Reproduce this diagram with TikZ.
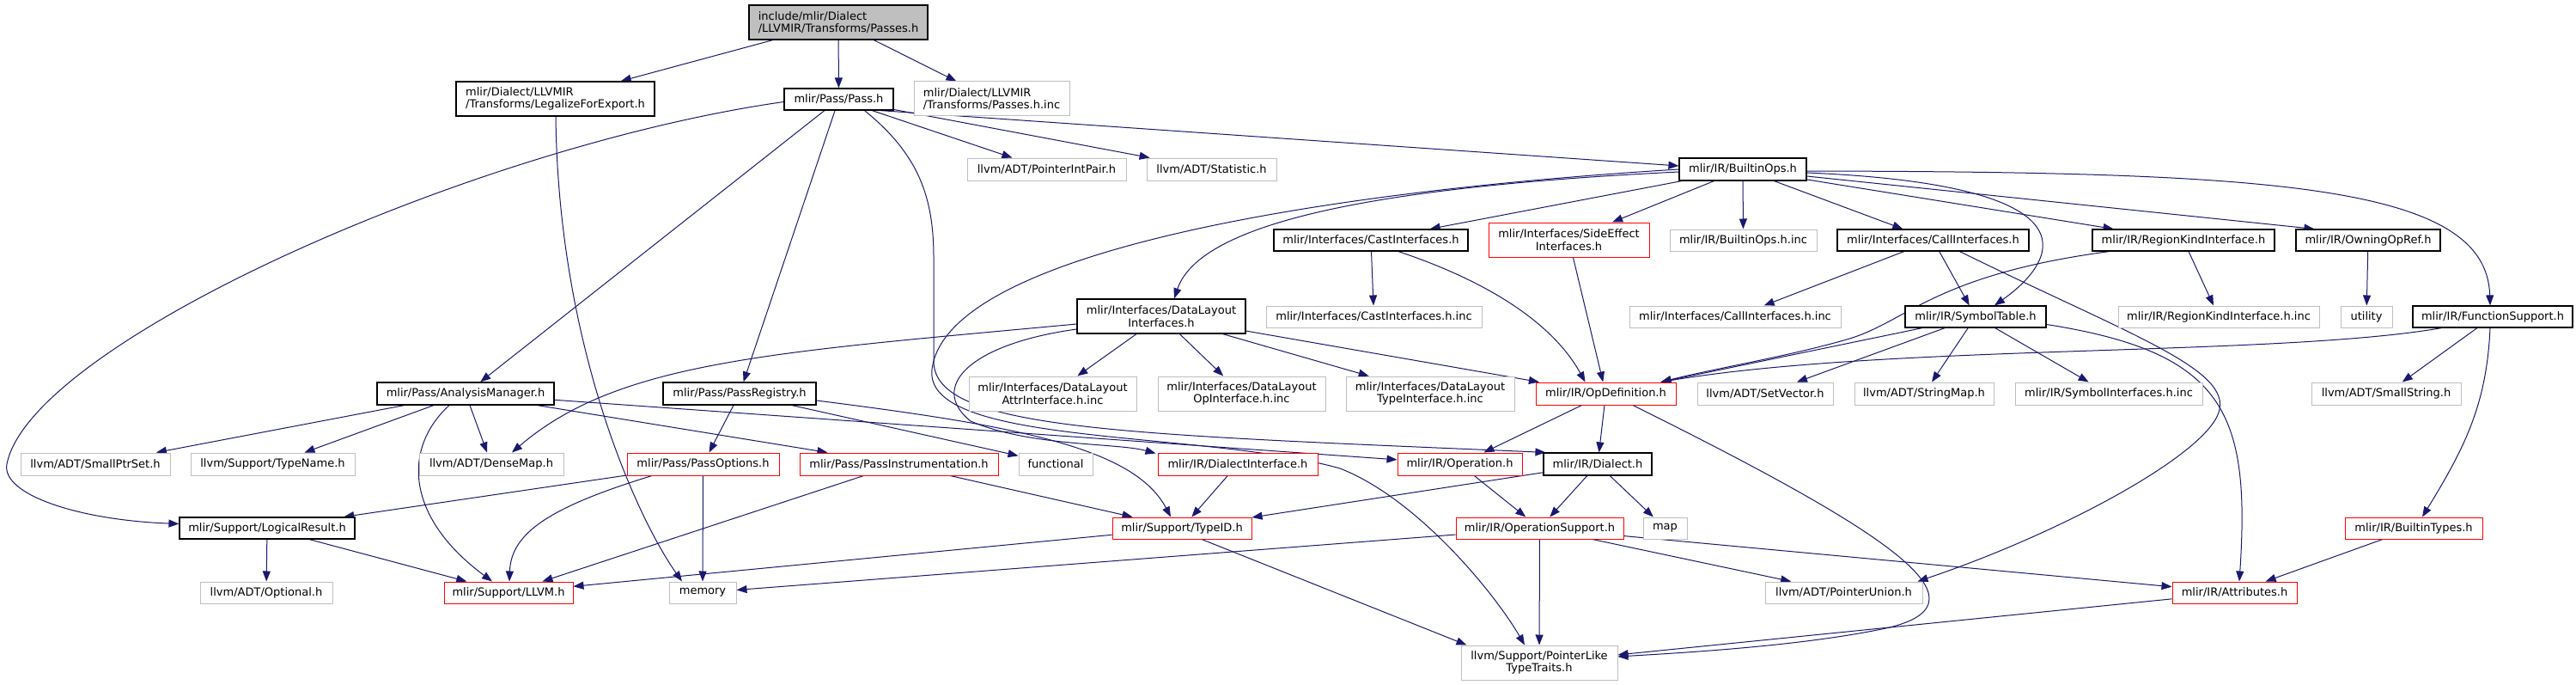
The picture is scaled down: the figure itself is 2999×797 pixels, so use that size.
\documentclass[tikz,border=0pt]{standalone}
\usepackage{fontspec}
\setmainfont{DejaVu Sans}
\usetikzlibrary{arrows.meta,calc,backgrounds}
\definecolor{edgec}{HTML}{191970}
\definecolor{extgray}{HTML}{BFBFBF}
\definecolor{rootgray}{HTML}{BFBFBF}
\tikzset{
  bxbase/.style={rectangle, inner sep=0pt, line width=1pt, fill=white, text=black, font=\fontsize{13}{14.5}\selectfont},
  blk/.style={bxbase, draw=black, line width=1.2pt},
  ext/.style={bxbase, draw=extgray},
  trn/.style={bxbase, draw=red},
  rootbox/.style={bxbase, draw=black, line width=1.2pt, fill=rootgray},
  lnk/.style={draw=edgec, line width=1pt, -{Triangle[length=12pt,width=9pt]}},
}
\newcommand{\mkbox}[7]{\node[#1, minimum width={(#5-#3)*1pt}, minimum height={(#6-#4)*1pt}] (#2) at ({(#3+#5)/2},{(#4+#6)/2}) {#7};}
\begin{document}
\begin{tikzpicture}[x=1pt,y=-1pt]
\useasboundingbox (0,0) rectangle (2999,797);
% nodes
\mkbox{rootbox,align=left}{root}{872}{6}{1080}{46}{include/mlir/Dialect\\/LLVMIR/Transforms/Passes.h}
\mkbox{blk,align=left}{legal}{531}{95}{762}{135}{mlir/Dialect/LLVMIR\\/Transforms/LegalizeForExport.h}
\mkbox{blk}{pass}{913}{103}{1040}{128}{mlir/Pass/Pass.h}
\mkbox{ext,align=left}{passinc}{1064}{95}{1245}{135}{mlir/Dialect/LLVMIR\\/Transforms/Passes.h.inc}
\mkbox{ext}{pip}{1126}{184}{1311}{210}{llvm/ADT/PointerIntPair.h}
\mkbox{ext}{stat}{1335}{184}{1486}{210}{llvm/ADT/Statistic.h}
\mkbox{blk}{bops}{1955}{184}{2103}{210}{mlir/IR/BuiltinOps.h}
\mkbox{blk}{cast}{1483}{267}{1709}{292}{mlir/Interfaces/CastInterfaces.h}
\mkbox{trn,align=center}{side}{1733}{259}{1920}{299}{mlir/Interfaces/SideEffect\\Interfaces.h}
\mkbox{ext}{bopsinc}{1944}{267}{2115}{292}{mlir/IR/BuiltinOps.h.inc}
\mkbox{blk}{call}{2139}{267}{2362}{292}{mlir/Interfaces/CallInterfaces.h}
\mkbox{blk}{region}{2436}{267}{2648}{292}{mlir/IR/RegionKindInterface.h}
\mkbox{blk}{owning}{2673}{267}{2841}{292}{mlir/IR/OwningOpRef.h}
\mkbox{blk,align=center}{dl}{1254}{348}{1450}{388}{mlir/Interfaces/DataLayout\\Interfaces.h}
\mkbox{ext}{castinc}{1474}{356}{1725}{381}{mlir/Interfaces/CastInterfaces.h.inc}
\mkbox{ext}{callinc}{1897}{356}{2143}{381}{mlir/Interfaces/CallInterfaces.h.inc}
\mkbox{blk}{symtab}{2218}{356}{2382}{381}{mlir/IR/SymbolTable.h}
\mkbox{ext}{regioninc}{2466}{356}{2700}{381}{mlir/IR/RegionKindInterface.h.inc}
\mkbox{ext}{utility}{2725}{356}{2785}{381}{utility}
\mkbox{blk}{funcsup}{2809}{356}{2995}{381}{mlir/IR/FunctionSupport.h}
\mkbox{blk}{am}{439}{445}{645}{471}{mlir/Pass/AnalysisManager.h}
\mkbox{blk}{preg}{772}{445}{950}{471}{mlir/Pass/PassRegistry.h}
\mkbox{ext,align=center}{attrinc}{1128}{438}{1323}{478}{mlir/Interfaces/DataLayout\\AttrInterface.h.inc}
\mkbox{ext,align=center}{opinc}{1348}{438}{1543}{478}{mlir/Interfaces/DataLayout\\OpInterface.h.inc}
\mkbox{ext,align=center}{typeinc}{1567}{438}{1763}{478}{mlir/Interfaces/DataLayout\\TypeInterface.h.inc}
\mkbox{trn}{opdef}{1788}{445}{1951}{471}{mlir/IR/OpDefinition.h}
\mkbox{ext}{setvec}{1976}{445}{2134}{471}{llvm/ADT/SetVector.h}
\mkbox{ext}{strmap}{2159}{445}{2321}{471}{llvm/ADT/StringMap.h}
\mkbox{ext}{syminc}{2346}{445}{2564}{471}{mlir/IR/SymbolInterfaces.h.inc}
\mkbox{ext}{smallstr}{2691}{445}{2865}{471}{llvm/ADT/SmallString.h}
\mkbox{ext}{smallptr}{24}{527}{198}{553}{llvm/ADT/SmallPtrSet.h}
\mkbox{ext}{typename}{222}{527}{413}{553}{llvm/Support/TypeName.h}
\mkbox{ext}{densemap}{488}{527}{656}{553}{llvm/ADT/DenseMap.h}
\mkbox{trn}{passopt}{730}{527}{907}{553}{mlir/Pass/PassOptions.h}
\mkbox{trn}{passinst}{931}{527}{1162}{553}{mlir/Pass/PassInstrumentation.h}
\mkbox{ext}{functional}{1186}{527}{1272}{553}{functional}
\mkbox{trn}{dialint}{1348}{527}{1534}{553}{mlir/IR/DialectInterface.h}
\mkbox{trn}{operation}{1627}{527}{1772}{553}{mlir/IR/Operation.h}
\mkbox{blk}{dialect}{1797}{527}{1923}{553}{mlir/IR/Dialect.h}
\mkbox{blk}{logical}{209}{602}{413}{627}{mlir/Support/LogicalResult.h}
\mkbox{trn}{typeid}{1295}{602}{1457}{627}{mlir/Support/TypeID.h}
\mkbox{trn}{opsup}{1695}{602}{1890}{627}{mlir/IR/OperationSupport.h}
\mkbox{ext}{map}{1913}{602}{1964}{627}{map}
\mkbox{trn}{btypes}{2730}{602}{2890}{627}{mlir/IR/BuiltinTypes.h}
\mkbox{ext}{optional}{233}{677}{387}{702}{llvm/ADT/Optional.h}
\mkbox{trn}{llvm}{517}{677}{667}{702}{mlir/Support/LLVM.h}
\mkbox{ext}{memory}{779}{677}{857}{702}{memory}
\mkbox{ext}{ptrunion}{2055}{677}{2238}{702}{llvm/ADT/PointerUnion.h}
\mkbox{trn}{attrs}{2529}{677}{2674}{702}{mlir/IR/Attributes.h}
\mkbox{ext,align=center}{ptrlike}{1701}{751}{1883}{791}{llvm/Support/PointerLike\\TypeTraits.h}
% edges
\begin{scope}[on background layer]
\fill[white] (0,0) rectangle (2999,797);
\draw[lnk] (root) -- (legal);
\draw[lnk] (root) -- (pass);
\draw[lnk] (root) -- (passinc);
\draw[lnk] ($(legal.south)+(0.5,0)$) .. controls (650,400) and (740,600) .. ($(memory.north)+(-24,0)$);
\draw[lnk] ($(pass.west)+(0,3)$) .. controls (550,170) and (35,400) .. (8,540) .. controls (1.25,575) and (90,605) .. ($(logical.west)+(0,-5)$);
\draw[lnk] (pass) -- (am);
\draw[lnk] (pass) -- (preg);
\draw[lnk] (pass) -- (pip);
\draw[lnk] (pass) -- (stat);
\draw[lnk] ($(pass.south)+(48.5,0)$) -- ($(bops.west)+(0,-4)$);
\draw[lnk] ($(pass.south)+(30,0)$) .. controls (1070,180) and (1087,230) .. (1087,300) -- (1087,420) .. controls (1087,500) and (1300,505) .. ($(dialect.north west)+(3,0)$);
\draw[lnk] (am) -- (smallptr);
\draw[lnk] (am) -- (typename);
\draw[lnk] (am) -- (densemap);
\draw[lnk] ($(am.south)+(-19,0)$) .. controls (470,520) and (470,600) .. ($(llvm.north)+(-19,0)$);
\draw[lnk] (am) -- (passinst);
\draw[lnk] (am) -- (operation);
\draw[lnk] (preg) -- (passopt);
\draw[lnk] (preg) -- (functional);
\draw[lnk] ($(preg.east)+(0,8)$) .. controls (1180,495) and (1320,520) .. ($(typeid.north)+(-13,0)$);
\draw[lnk] (passopt) -- (logical);
\draw[lnk] ($(passopt.south)+(-59.5,0)$) .. controls (640,590) and (595,620) .. ($(llvm.north)+(1,0)$);
\draw[lnk] (passopt) -- (memory);
\draw[lnk] (passinst) -- (llvm);
\draw[lnk] (passinst) -- (typeid);
\draw[lnk] (logical) -- (optional);
\draw[lnk] (logical) -- (llvm);
\draw[lnk] (typeid) -- (llvm);
\draw[lnk] ($(typeid.south)+(23,0)$) -- ($(ptrlike.north west)+(7,0)$);
\draw[lnk] (dialint) -- (typeid);
\draw[lnk] (dialect) -- (typeid);
\draw[lnk] (dialect) -- (opsup);
\draw[lnk] (dialect) -- (map);
\draw[lnk] (operation) -- (opsup);
\draw[lnk] (opsup) -- (memory);
\draw[lnk] (opsup) -- (ptrunion);
\draw[lnk] (opsup) -- (attrs);
\draw[lnk] (opsup) -- (ptrlike);
\draw[lnk] (attrs) -- (ptrlike);
\draw[lnk] (btypes) -- (attrs);
\draw[lnk] (opdef) -- (operation);
\draw[lnk] (opdef) -- (dialect);
\draw[lnk] ($(opdef.south)+(31.5,0)$) .. controls (2200,620) and (2320,700) .. (2200,730) .. controls (2100,752) and (1950,760) .. ($(ptrlike.east)+(0,-7)$);
\draw[lnk] (bops) -- (cast);
\draw[lnk] (bops) -- (side);
\draw[lnk] (bops) -- (bopsinc);
\draw[lnk] (bops) -- (call);
\draw[lnk] (bops) -- (region);
\draw[lnk] ($(bops.east)+(0,8)$) -- ($(owning.north west)+(22,0)$);
\draw[lnk] ($(bops.east)+(0,2)$) .. controls (2650,200) and (2895,215) .. ($(funcsup.north)+(-3,0)$);
\draw[lnk] ($(bops.east)+(0,4)$) .. controls (2440,215) and (2400,300) .. ($(symtab.north)+(22,0)$);
\draw[lnk] ($(bops.west)+(0,3)$) .. controls (1650,215) and (1400,250) .. ($(dl.north)+(15,0)$);
\draw[lnk] (bops.west) .. controls (1500,225) and (1100,300) .. (1085,430) .. controls (1075,520) and (1400,500) .. (1560,545) .. controls (1650,580) and (1740,690) .. ($(ptrlike.north)+(-17,0)$);
\draw[lnk] (cast) -- (castinc);
\draw[lnk] ($(cast.south)+(32,0)$) .. controls (1740,330) and (1810,380) .. ($(opdef.north)+(-24,0)$);
\draw[lnk] (side) -- (opdef);
\draw[lnk] (call) -- (callinc);
\draw[lnk] (call) -- (symtab);
\draw[lnk] ($(call.south)+(31,0)$) .. controls (2480,390) and (2600,430) .. (2583,480) .. controls (2566,530) and (2400,620) .. ($(ptrunion.north east)+(-6,0)$);
\draw[lnk] (region) -- (regioninc);
\draw[lnk] ($(region.south west)+(20,0)$) .. controls (2250,320) and (2220,375) .. (2150,395) .. controls (2080,415) and (2000,428) .. ($(opdef.north east)+(-18,0)$);
\draw[lnk] (owning) -- (utility);
\draw[lnk] ($(funcsup.south west)+(34,0)$) .. controls (2650,415) and (2200,400) .. ($(opdef.north east)+(-18,0)$);
\draw[lnk] (funcsup) -- (smallstr);
\draw[lnk] ($(funcsup.south)+(-3,0)$) .. controls (2895,470) and (2870,520) .. ($(btypes.north)+(10,0)$);
\draw[lnk] ($(symtab.south)+(-62,0)$) -- ($(opdef.north east)+(-18,0)$);
\draw[lnk] (symtab) -- (setvec);
\draw[lnk] (symtab) -- (strmap);
\draw[lnk] (symtab) -- (syminc);
\draw[lnk] ($(symtab.east)+(0,9)$) .. controls (2590,410) and (2620,480) .. ($(attrs.north)+(5.5,0)$);
\draw[lnk] (dl) -- (attrinc);
\draw[lnk] (dl) -- (opinc);
\draw[lnk] (dl) -- (typeinc);
\draw[lnk] (dl) -- (opdef);
\draw[lnk] ($(dl.west)+(0,9)$) .. controls (900,410) and (720,420) .. ($(densemap.north)+(24,0)$);
\draw[lnk] ($(dl.west)+(0,15)$) .. controls (1130,400) and (1080,450) .. (1130,490) .. controls (1200,520) and (1300,515) .. ($(dialint.north west)+(-2,1)$);
\end{scope}
\end{tikzpicture}
\end{document}
